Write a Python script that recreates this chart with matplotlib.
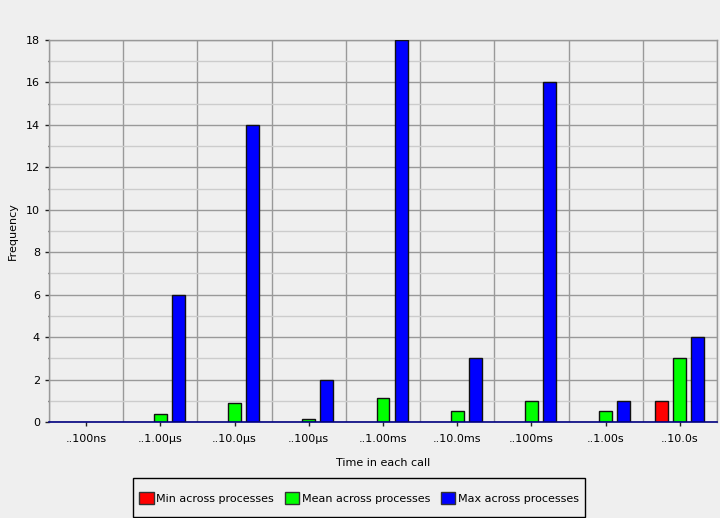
import numpy as np
import matplotlib.pyplot as plt
from matplotlib.ticker import MultipleLocator, FixedLocator

categories = ['..100ns', '..1.00\u00b5s', '..10.0\u00b5s', '..100\u00b5s', '..1.00ms',
              '..10.0ms', '..100ms', '..1.00s', '..10.0s']
min_vals = [0, 0, 0, 0, 0, 0, 0, 0, 1]
mean_vals = [0, 0.375, 0.875, 0.125, 1.125, 0.5, 1.0, 0.5, 3.0]
max_vals = [0, 6, 14, 2, 18, 3, 16, 1, 4]

bg = '#efefef'
fig = plt.figure(figsize=(7.2, 5.18), dpi=100, facecolor=bg)
ax = fig.add_axes([49 / 720, 1 - 422 / 518, 668 / 720, 382 / 518], facecolor=bg)

x = np.arange(len(categories))
w = 0.175
off = 0.243
series = [(min_vals, '#ff0000', 'Min across processes', -off),
          (mean_vals, '#00ff00', 'Mean across processes', 0),
          (max_vals, '#0000ff', 'Max across processes', off)]
handles = []
for vals, col, lab, dx in series:
    v = np.array(vals, dtype=float)
    # zero-height bars are not drawn
    mask = v > 0
    ax.bar(x[mask] + dx, v[mask], width=w, color=col, edgecolor='#111111',
           linewidth=1.0, zorder=3)
    handles.append(plt.Rectangle((0, 0), 1, 1, facecolor=col, edgecolor='#333333', linewidth=1.0))

ax.set_xlim(-0.5, len(categories) - 0.5)
ax.set_ylim(0, 18)
ax.set_xticks(x)
ax.set_xticklabels(categories, fontsize=8)
ax.xaxis.set_minor_locator(FixedLocator(np.arange(-0.5, len(categories), 1.0)))
ax.yaxis.set_major_locator(MultipleLocator(2))
ax.yaxis.set_minor_locator(MultipleLocator(1))
ax.tick_params(axis='y', which='major', labelsize=8, length=3, width=1, color='#222222')
ax.tick_params(axis='y', which='minor', length=1, width=1, color='#222222')
ax.tick_params(axis='x', which='major', length=3, width=1, color='#222222', pad=6)
ax.tick_params(axis='x', which='minor', length=0)

ax.grid(True, axis='y', which='major', color='#999999', linewidth=1.0, zorder=0)
ax.grid(True, axis='y', which='minor', color='#cccccc', linewidth=1.0, zorder=0)
ax.grid(True, axis='x', which='minor', color='#999999', linewidth=1.0, zorder=0)
ax.grid(False, axis='x', which='major')

for s in ['top', 'left', 'right']:
    ax.spines[s].set_color('#999999')
    ax.spines[s].set_linewidth(1.0)
ax.spines['bottom'].set_color('#000080')
ax.spines['bottom'].set_linewidth(1.2)
ax.spines['bottom'].set_zorder(4)

ax.set_xlabel('Time in each call', fontsize=8, labelpad=10)
ax.set_ylabel('Frequency', fontsize=8, labelpad=6)

# legend box below the plot, centred on the figure
fig.patches.append(plt.Rectangle((133 / 720, 1 - 517 / 518), 452 / 720, 39 / 518,
                                 transform=fig.transFigure, facecolor=bg,
                                 edgecolor='black', linewidth=1.0))
leg = fig.legend(handles, [s[2] for s in series], loc='center',
                 bbox_to_anchor=(359 / 720, 1 - 498 / 518), ncol=3, fontsize=8,
                 frameon=False, handlelength=1.3, handleheight=1.3,
                 handletextpad=0.2, columnspacing=1.0, borderpad=0.2)

fig.savefig('out.png', dpi=100, facecolor=bg)
